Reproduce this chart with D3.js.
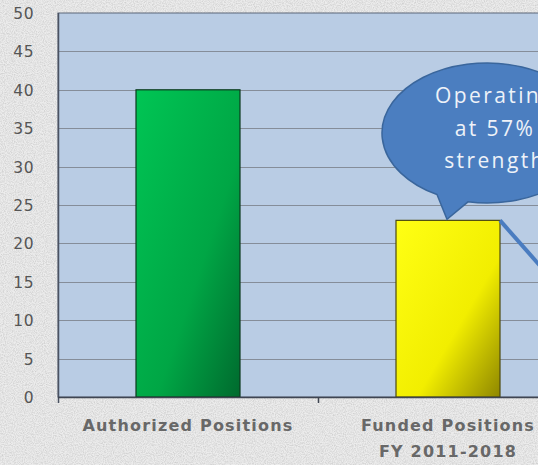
<!DOCTYPE html>
<html>
<head>
<meta charset="utf-8">
<script src="https://cdn.jsdelivr.net/npm/d3@7"></script>
<style>
  html, body { margin: 0; padding: 0; background: #ebebeb; }
  svg { display: block; }
</style>
</head>
<body>
<div id="chart"></div>
<script>
// Staffing figures
const categories = ["Authorized Positions", "Funded Positions"];
const subLabels = ["", "FY 2011-2018"];
const values = [40, 23];
const barColors = [["#00c554", "#00a645", "#006a2e"], ["#ffff14", "#f2ee00", "#8f8700"]];
const yTicks = [0, 5, 10, 15, 20, 25, 30, 35, 40, 45, 50];
const calloutLines = ["Operating", "at 57%", "strength"];

const W = 538, H = 465;
const margin = { left: 58, top: 13, bottom: 68 };
const plotRight = 578; // plot area runs past the right edge of the canvas

const svg = d3.select("#chart").append("svg")
  .attr("width", W).attr("height", H);

const defs = svg.append("defs");

// grainy paper texture
const grain = defs.append("filter").attr("id", "grain")
  .attr("x", 0).attr("y", 0).attr("width", "100%").attr("height", "100%");
grain.append("feTurbulence").attr("type", "fractalNoise")
  .attr("baseFrequency", 0.9).attr("numOctaves", 2).attr("seed", 3).attr("result", "n");
grain.append("feColorMatrix").attr("type", "matrix")
  .attr("values", "0 0 0 0 0.45  0 0 0 0 0.45  0 0 0 0 0.45  0 0 0 -1.6 1.05");

svg.append("rect").attr("width", W).attr("height", H).attr("fill", "#ececec");
svg.append("rect").attr("width", W).attr("height", H).attr("filter", "url(#grain)").attr("opacity", 0.6);

values.forEach((v, i) => {
  const g = defs.append("linearGradient").attr("id", "bar" + i)
    .attr("x1", "0%").attr("y1", "0%").attr("x2", "100%").attr("y2", "100%");
  g.append("stop").attr("offset", "0%").attr("stop-color", barColors[i][0]);
  g.append("stop").attr("offset", "60%").attr("stop-color", barColors[i][1]);
  g.append("stop").attr("offset", "100%").attr("stop-color", barColors[i][2]);
});

const y = d3.scaleLinear().domain([0, 50]).range([H - margin.bottom, margin.top]);
const x = d3.scaleBand().domain(categories).range([margin.left, plotRight]).padding(0);
const barW = x.bandwidth() * 0.4;

// plot area
svg.append("rect")
  .attr("x", margin.left).attr("y", y(50))
  .attr("width", plotRight - margin.left).attr("height", y(0) - y(50))
  .attr("fill", "#b9cce4").attr("stroke", "#5d6778").attr("stroke-width", 1);

// gridlines
svg.append("g").selectAll("line").data(yTicks.filter(t => t > 0 && t < 50)).join("line")
  .attr("x1", margin.left).attr("x2", plotRight)
  .attr("y1", d => Math.round(y(d)) + 0.5).attr("y2", d => Math.round(y(d)) + 0.5)
  .attr("stroke", "#858d99").attr("stroke-width", 1);

// y axis
const yAxis = svg.append("g").attr("transform", `translate(${margin.left + 0.5},0)`)
  .call(d3.axisLeft(y).tickValues(yTicks).tickSize(0).tickPadding(24));
yAxis.select(".domain").remove();
yAxis.selectAll("text")
  .attr("font-family", "DejaVu Sans, sans-serif").attr("font-size", 15.5)
  .attr("letter-spacing", 0.8)
  .attr("fill", "#555").attr("dy", "0.36em");
svg.append("line").attr("x1", margin.left + 0.5).attr("x2", margin.left + 0.5)
  .attr("y1", y(50)).attr("y2", y(0) + 6).attr("stroke", "#4a5262").attr("stroke-width", 1.5);

// bars
svg.append("g").selectAll("rect").data(values).join("rect")
  .attr("x", (d, i) => x(categories[i]) + (x.bandwidth() - barW) / 2)
  .attr("y", d => y(d))
  .attr("width", barW)
  .attr("height", d => y(0) - y(d))
  .attr("fill", (d, i) => `url(#bar${i})`)
  .attr("stroke", (d, i) => i === 0 ? "#0d3a1f" : "#4d4a10").attr("stroke-width", 1.2);

// x axis
svg.append("line").attr("x1", margin.left).attr("x2", plotRight)
  .attr("y1", y(0) + 0.5).attr("y2", y(0) + 0.5).attr("stroke", "#3f4552").attr("stroke-width", 1.5);
svg.append("line").attr("x1", x(categories[1]) + 0.5).attr("x2", x(categories[1]) + 0.5)
  .attr("y1", y(0)).attr("y2", y(0) + 6).attr("stroke", "#3f4552").attr("stroke-width", 1.5);

const labelFont = sel => sel
  .attr("text-anchor", "middle")
  .attr("font-family", "DejaVu Sans, sans-serif").attr("font-size", 16).attr("font-weight", "bold")
  .attr("letter-spacing", 1.2)
  .attr("fill", "#686868");

svg.append("g").selectAll("text").data(categories).join("text")
  .attr("x", d => x(d) + x.bandwidth() / 2)
  .attr("y", y(0) + 34)
  .call(labelFont)
  .text(d => d);
svg.append("g").selectAll("text").data(subLabels).join("text")
  .attr("x", (d, i) => x(categories[i]) + x.bandwidth() / 2)
  .attr("y", y(0) + 60)
  .call(labelFont)
  .text(d => d);

// connector from funded bar down-right
const fx = x(categories[1]) + (x.bandwidth() + barW) / 2;
const fy = y(values[1]);
svg.append("line").attr("x1", fx).attr("y1", fy).attr("x2", fx + 60).attr("y2", fy + 68)
  .attr("stroke", "#4a7cc0").attr("stroke-width", 4);

// speech bubble
const cx = 487, cy = 133, rx = 105, ry = 70;
const tip = [x(categories[1]) + x.bandwidth() / 2 - 1, fy - 1];
const pt = a => [cx + rx * Math.cos(a), cy + ry * Math.sin(a)];
const a1 = Math.acos((437 - cx) / rx), a2 = Math.acos((468 - cx) / rx);
const p1 = pt(a1), p2 = pt(a2);
svg.append("path")
  .attr("d", `M${p1[0]},${p1[1]} L${tip[0]},${tip[1]} L${p2[0]},${p2[1]} A${rx},${ry} 0 1 0 ${p1[0]},${p1[1]} Z`)
  .attr("fill", "#4b7ec0").attr("stroke", "#3a669c").attr("stroke-width", 1.5);

svg.append("g").selectAll("text").data(calloutLines).join("text")
  .attr("x", 495).attr("y", (d, i) => 103 + i * 32.5)
  .attr("text-anchor", "middle")
  .attr("font-family", "Open Sans, sans-serif").attr("font-size", 21)
  .attr("letter-spacing", 2.4)
  .attr("fill", "#eef2f8")
  .text(d => d);
</script>
</body>
</html>
